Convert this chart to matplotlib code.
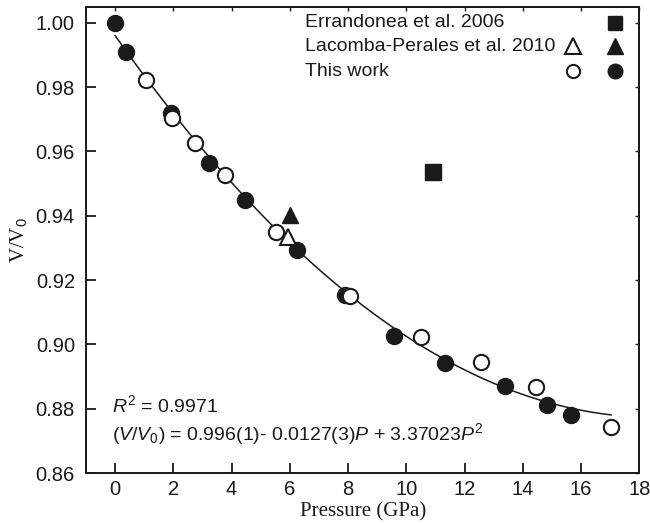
import numpy as np
import matplotlib
matplotlib.use("Agg")
import matplotlib.pyplot as plt

plt.rcParams["mathtext.fontset"] = "custom"
plt.rcParams["mathtext.it"] = "Liberation Sans:italic"
plt.rcParams["mathtext.rm"] = "Liberation Sans"

# data
filled_p = [0.0, 0.36, 1.93, 3.22, 4.47, 6.25, 7.89, 9.57, 11.32, 13.38, 14.84, 15.64]
filled_v = [1.000, 0.9908, 0.972, 0.9564, 0.945, 0.9294, 0.9154, 0.9026, 0.8941, 0.8870, 0.8811, 0.8780]
open_p = [1.05, 1.97, 2.73, 3.76, 5.54, 8.08, 10.49, 12.58, 14.47, 17.03]
open_v = [0.9823, 0.9704, 0.9626, 0.9528, 0.9351, 0.9149, 0.9024, 0.8946, 0.8866, 0.8742]
lacomba_open = (5.94, 0.9335)
lacomba_filled = (6.02, 0.9403)
errandonea = (10.9, 0.9536)

# quadratic fit drawn as the line
fit_a, fit_b, fit_c = 0.996, -0.0128, 0.000345
fit_range = (0.0, 17.03)

sans = ["Liberation Sans Narrow", "Liberation Sans", "DejaVu Sans"]
serif = ["Liberation Serif", "DejaVu Serif"]
ink = "#1a1a1a"

fig = plt.figure(figsize=(6.5, 5.25), dpi=100)
ax = fig.add_axes([0.1323, 0.099, 0.8512, 0.8882])

p = np.linspace(fit_range[0], fit_range[1], 200)
ax.plot(p, fit_a + fit_b * p + fit_c * p ** 2, color=ink, lw=1.1, zorder=2)

ax.plot(filled_p, filled_v, "o", ms=11.5, color=ink, zorder=3)
ax.plot(open_p, open_v, "o", ms=11, mfc="white", mec=ink, mew=1.5, zorder=4)
ax.plot(*lacomba_open, "^", ms=12, mfc="white", mec=ink, mew=1.5, zorder=4)
ax.plot(*lacomba_filled, "^", ms=12, color=ink, zorder=4)
ax.plot(*errandonea, "s", ms=11, color=ink, zorder=4)

# hand-made legend in the upper right
leg_x, leg_m1, leg_m2 = 6.51, 15.72, 17.16
leg_y = [1.000, 0.9927, 0.9849]
leg_txt = ["Errandonea et al. 2006", "Lacomba-Perales et al. 2010", "This work"]
for t, y in zip(leg_txt, leg_y):
    ax.text(leg_x, y, t, family=sans, fontsize=14, va="center", ha="left", color=ink)
ax.plot(leg_m2, leg_y[0], "s", ms=10, color=ink)
ax.plot(leg_m1, leg_y[1], "^", ms=11, mfc="white", mec=ink, mew=1.5)
ax.plot(leg_m2, leg_y[1], "^", ms=11, color=ink)
ax.plot(leg_m1, leg_y[2], "o", ms=9.5, mfc="white", mec=ink, mew=1.5)
ax.plot(leg_m2, leg_y[2], "o", ms=10.5, color=ink)

ax.text(-0.09, 0.8811, r"$R^2$ = 0.9971", family=sans, fontsize=14, va="center", color=ink)
ax.text(-0.09, 0.8722, r"($V$/$V_0$) = 0.996(1)- 0.0127(3)$P$ + 3.37023$P^2$",
        family=sans, fontsize=14, va="center", color=ink)

ax.set_xlim(-1, 18)
ax.set_ylim(0.86, 1.005)
ax.set_xticks(range(0, 19, 2))
ax.set_yticks([0.86, 0.88, 0.90, 0.92, 0.94, 0.96, 0.98, 1.00])
ax.set_yticklabels([f"{v:.2f}" for v in ax.get_yticks()])
ax.tick_params(direction="in", length=7.5, width=1.3, color=ink, labelsize=14.5, labelcolor=ink)
ax.tick_params(axis="x", pad=5)
ax.tick_params(axis="y", pad=8)
for lab in ax.get_xticklabels() + ax.get_yticklabels():
    lab.set_family(sans)

top = ax.secondary_xaxis("top")
top.set_xticks(range(0, 19, 2))
top.tick_params(direction="in", length=3, width=1, color=ink, labeltop=False)
right = ax.secondary_yaxis("right")
right.set_yticks([0.86, 0.88, 0.90, 0.92, 0.94, 0.96, 0.98, 1.00])
right.tick_params(direction="in", length=3, width=1, color=ink, labelright=False)
for s in list(ax.spines.values()) + [top.spines["top"], right.spines["right"]]:
    s.set_linewidth(1.4)
    s.set_color(ink)

ax.set_xlabel("Pressure (GPa)", family=serif, fontsize=15, color=ink, labelpad=2)
ax.set_ylabel(r"V/V$_0$", family=serif, fontsize=15, color=ink, labelpad=4)

fig.savefig("out.png", dpi=100)
